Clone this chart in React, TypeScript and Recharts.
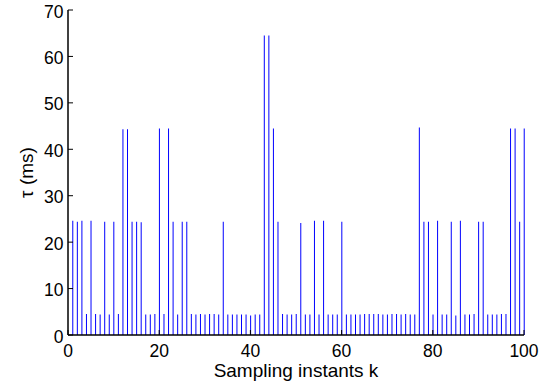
import React from 'react';
import { BarChart, Bar, XAxis, YAxis } from 'recharts';

const kValues = Array.from({ length: 100 }, (_, i) => i + 1);
const tauValues = [
  24.6, 24.4, 24.6, 4.5, 24.6, 4.5, 4.4, 24.4, 4.4, 24.4,
  4.5, 44.3, 44.3, 24.4, 24.4, 24.3, 4.4, 4.4, 4.5, 44.5,
  4.5, 44.5, 24.4, 4.4, 24.4, 24.4, 4.5, 4.4, 4.5, 4.4,
  4.5, 4.5, 4.4, 24.4, 4.4, 4.4, 4.4, 4.4, 4.4, 4.2,
  4.4, 4.4, 64.5, 64.5, 44.5, 24.4, 4.5, 4.4, 4.4, 4.5,
  24.1, 4.4, 4.4, 24.6, 4.4, 24.6, 4.4, 4.4, 4.4, 24.4,
  4.4, 4.4, 4.4, 4.4, 4.5, 4.5, 4.5, 4.5, 4.4, 4.4,
  4.5, 4.5, 4.4, 4.5, 4.4, 4.4, 44.7, 24.4, 24.4, 4.4,
  24.6, 4.4, 4.4, 24.4, 4.2, 24.6, 4.4, 4.4, 4.5, 24.4,
  24.4, 4.4, 4.4, 4.4, 4.5, 4.5, 44.5, 44.5, 24.4, 44.5,
];
const xTicks = [0, 20, 40, 60, 80, 100];
const yTicks = [0, 10, 20, 30, 40, 50, 60, 70];
const xLabel = 'Sampling instants k';
const yLabel = 'τ (ms)';

const data = kValues.map((k, i) => ({ k, tau: tauValues[i] }));

const FONT = '"Liberation Sans", Arial, sans-serif';
const TICK_LEN = 5;

const BottomTick = (props: any) => {
  const { x, y, payload } = props;
  return (
    <g>
      <line x1={x} y1={y} x2={x} y2={y - TICK_LEN} stroke="#000" strokeWidth={1} />
      <text x={x} y={y + 21.5} textAnchor="middle" fontSize={17.5} fontFamily={FONT} fill="#000">
        {payload.value}
      </text>
    </g>
  );
};

const TopTick = (props: any) => {
  const { x, y } = props;
  return <line x1={x} y1={y} x2={x} y2={y + TICK_LEN} stroke="#000" strokeWidth={1} />;
};

const LeftTick = (props: any) => {
  const { x, y, payload } = props;
  return (
    <g>
      <line x1={x} y1={y} x2={x + TICK_LEN} y2={y} stroke="#000" strokeWidth={1} />
      <text x={x - 4.5} y={y + 1.5} textAnchor="end" dominantBaseline="central" fontSize={17.5} fontFamily={FONT} fill="#000">
        {payload.value}
      </text>
    </g>
  );
};

const RightTick = (props: any) => {
  const { x, y } = props;
  return <line x1={x} y1={y} x2={x - TICK_LEN} y2={y} stroke="#000" strokeWidth={1} />;
};

export default function App() {
  return (
    <div style={{ position: 'absolute', left: 0, top: 0, fontFamily: FONT, background: '#fff' }}>
      <BarChart
        width={555}
        height={385}
        data={data}
        margin={{ top: 10, right: 31, left: 0, bottom: 0 }}
        barCategoryGap={0}
      >
        <XAxis
          dataKey="k"
          type="number"
          domain={[0, 100]}
          ticks={xTicks}
          tickSize={0}
          tickMargin={0}
          tickLine={false}
          tick={<BottomTick />}
          axisLine={{ stroke: '#000', strokeWidth: 1.5 }}
          height={50}
          interval={0}
          label={{
            value: xLabel,
            content: (p: any) => {
              const vb = p.viewBox;
              return (
                <text x={vb.x + vb.width / 2} y={vb.y + 42} textAnchor="middle" fontSize={19} fontFamily={FONT} fill="#000">
                  {xLabel}
                </text>
              );
            },
          }}
        />
        <XAxis
          xAxisId="top"
          dataKey="k"
          type="number"
          orientation="top"
          domain={[0, 100]}
          ticks={xTicks}
          tickSize={0}
          tickMargin={0}
          tickLine={false}
          tick={<TopTick />}
          axisLine={{ stroke: '#000', strokeWidth: 1 }}
          height={0}
          interval={0}
        />
        <YAxis
          type="number"
          domain={[0, 70]}
          ticks={yTicks}
          tickSize={0}
          tickMargin={0}
          tickLine={false}
          tick={<LeftTick />}
          axisLine={{ stroke: '#000', strokeWidth: 1.5 }}
          width={68}
          interval={0}
          label={{
            value: yLabel,
            content: () => (
              <text x={33} y={172.5} transform="rotate(-90 33 172.5)" textAnchor="middle" fontSize={19} fontFamily={FONT} fill="#000">
                {yLabel}
              </text>
            ),
          }}
        />
        <YAxis
          yAxisId="right"
          type="number"
          orientation="right"
          domain={[0, 70]}
          ticks={yTicks}
          tickSize={0}
          tickMargin={0}
          tickLine={false}
          tick={<RightTick />}
          axisLine={{ stroke: '#000', strokeWidth: 1 }}
          width={0}
          interval={0}
        />
        <Bar dataKey="tau" fill="#0000ff" barSize={1} isAnimationActive={false} />
      </BarChart>
    </div>
  );
}
